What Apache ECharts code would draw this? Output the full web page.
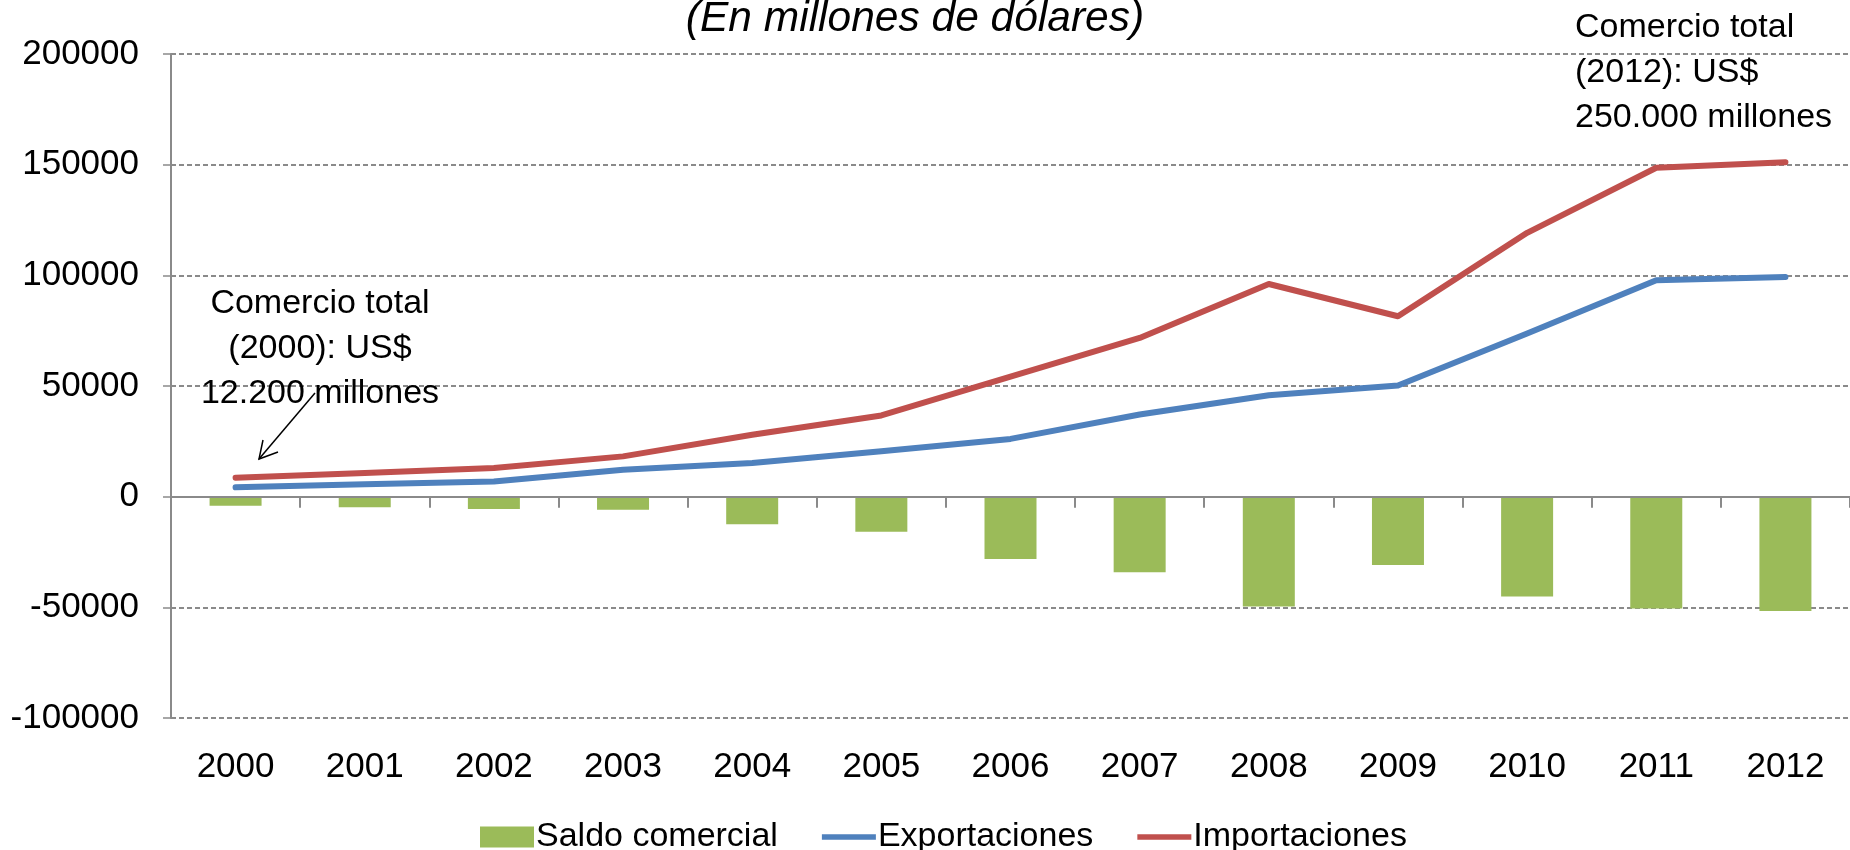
<!DOCTYPE html>
<html>
<head>
<meta charset="utf-8">
<script src="https://cdn.jsdelivr.net/npm/echarts@6/dist/echarts.min.js"></script>
<style>
html,body{margin:0;padding:0;background:#fff;}
#chart{width:1850px;height:850px;}
</style>
</head>
<body>
<div id="chart"></div>
<script>
const categories = ['2000','2001','2002','2003','2004','2005','2006','2007','2008','2009','2010','2011','2012'];
const saldoComercial = [-4100,-4800,-5600,-5900,-12500,-15800,-28200,-34200,-49600,-30900,-45100,-50500,-51700];
const exportaciones = [4200,5600,6900,12200,15200,20500,26100,37100,45800,50200,73700,97800,99200];
const importaciones = [8600,10700,13000,18200,28000,36700,54200,71700,96100,81500,119200,148600,151100];
const yMin = -100000, yMax = 200000, yInterval = 50000;
const seriesNames = ['Saldo comercial','Exportaciones','Importaciones'];
const titleText = '(En millones de dólares)';
const note2000 = 'Comercio total\n(2000): US$\n12.200 millones';
const note2012 = 'Comercio total\n(2012): US$\n250.000 millones';

const FONT = '"Liberation Sans", Arial, sans-serif';
const GRID_GREY = '#8a8a8a';
const LINE_ICON = 'path://M0,0 L57,0 L57,6 L0,6 Z';
const chart = echarts.init(document.getElementById('chart'), null, {renderer:'canvas'});

chart.setOption({
  animation: false,
  backgroundColor: '#ffffff',
  textStyle: {fontFamily: FONT},
  grid: {left: 171, right: -11, top: 54, bottom: 132, containLabel: false},
  legend: {
    left: 475, top: 812,
    itemWidth: 54, itemHeight: 21, itemGap: 44,
    symbolKeepAspect: true,
    textStyle: {fontSize: 34, color: '#000', fontFamily: FONT, lineHeight: 40, padding: [0,0,0,-3]},
    data: [
      {name: seriesNames[0], icon: 'rect'},
      {name: seriesNames[1], icon: LINE_ICON},
      {name: seriesNames[2], icon: LINE_ICON}
    ]
  },
  xAxis: [
    {
      type: 'category', data: categories, boundaryGap: true,
      axisLine: {show: true, onZero: true, lineStyle: {color: GRID_GREY, width: 2}},
      axisTick: {show: true, alignWithLabel: false, length: 11, lineStyle: {color: GRID_GREY, width: 2}},
      axisLabel: {show: false},
      splitLine: {show: false},
      z: 10
    },
    {
      type: 'category', data: categories, boundaryGap: true, position: 'bottom',
      axisLine: {show: false, onZero: false},
      axisTick: {show: false},
      axisLabel: {show: true, fontSize: 35, color: '#000', margin: 32, fontFamily: FONT},
      splitLine: {show: false}
    }
  ],
  yAxis: {
    type: 'value', min: yMin, max: yMax, interval: yInterval,
    axisLine: {show: true, lineStyle: {color: GRID_GREY, width: 2}},
    axisTick: {show: true, inside: false, length: 8, lineStyle: {color: GRID_GREY, width: 1.5}},
    axisLabel: {fontSize: 35, color: '#000', margin: 32, fontFamily: FONT, formatter: function (v) { return String(v); }},
    splitLine: {show: true, lineStyle: {color: GRID_GREY, width: 1.8, type: [5,3]}}
  },
  series: [
    {
      name: seriesNames[0], type: 'bar', data: saldoComercial, barWidth: 52,
      itemStyle: {color: '#9BBB59'}, z: 2
    },
    {
      name: seriesNames[1], type: 'line', data: exportaciones, symbol: 'none',
      lineStyle: {color: '#4F81BD', width: 6, cap: 'round', join: 'round'},
      itemStyle: {color: '#4F81BD'}, z: 5
    },
    {
      name: seriesNames[2], type: 'line', data: importaciones, symbol: 'none',
      lineStyle: {color: '#C0504D', width: 6, cap: 'round', join: 'round'},
      itemStyle: {color: '#C0504D'}, z: 5
    }
  ],
  graphic: [
    {type: 'text', z: 100, style: {text: titleText, x: 915, y: 19, fontSize: 42.5, fontStyle: 'italic', fontFamily: FONT, fill: '#000', align: 'center', verticalAlign: 'middle'}},
    {type: 'text', z: 100, style: {text: note2000, x: 320, y: 349, fontSize: 34, fontFamily: FONT, fill: '#000', align: 'center', verticalAlign: 'middle', lineHeight: 45}},
    {type: 'text', z: 100, style: {text: note2012, x: 1575, y: 73, fontSize: 34, fontFamily: FONT, fill: '#000', align: 'left', verticalAlign: 'middle', lineHeight: 45}},
    {type: 'line', z: 100, shape: {x1: 315, y1: 393, x2: 259, y2: 459}, style: {stroke: '#000', lineWidth: 1.5}},
    {type: 'polyline', z: 100, shape: {points: [[263, 440],[259, 459],[278, 452]]}, style: {stroke: '#000', lineWidth: 1.5, fill: null}}
  ]
});
</script>
</body>
</html>
